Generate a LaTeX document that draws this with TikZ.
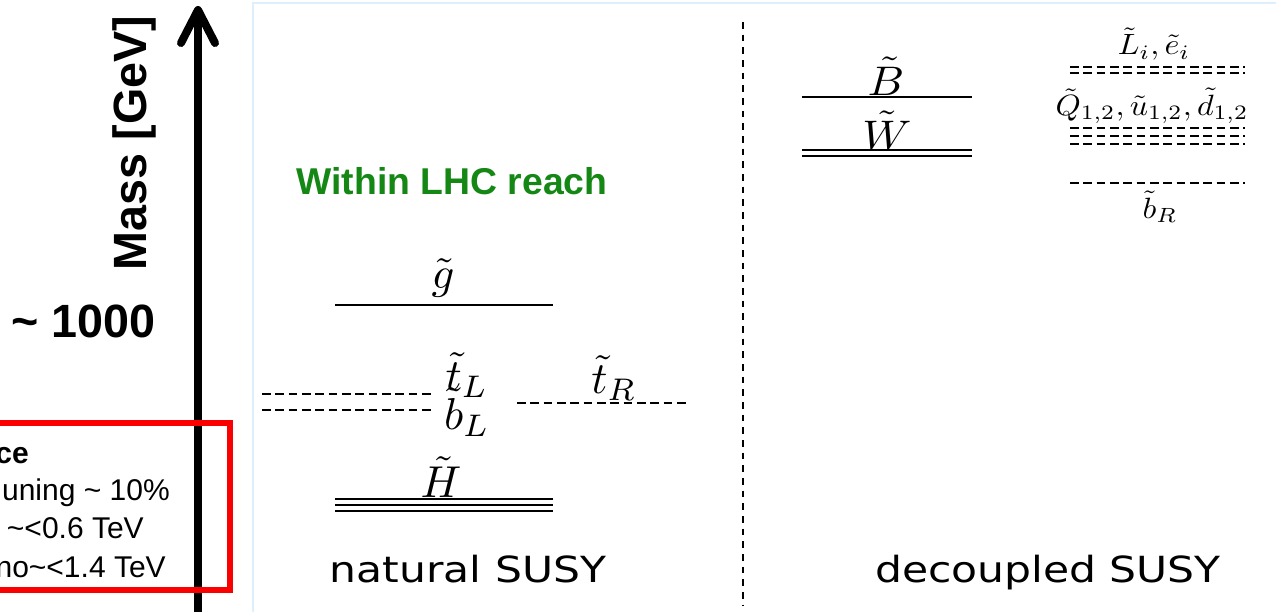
\documentclass[tikz,border=0pt]{standalone}
\usepackage{graphicx}
\usepackage[no-math]{fontspec}
\newfontfamily\arialf{Liberation Sans}
\newfontfamily\dejaf{DejaVu Sans}
\definecolor{panelblue}{RGB}{222,238,252}
\definecolor{reachgreen}{RGB}{20,135,20}
\definecolor{boxred}{RGB}{250,0,0}
\newcommand{\lgmath}[1]{\scalebox{3.35}{$#1$}}
\newcommand{\mdmath}[1]{\scalebox{3.4}[3.1]{$#1$}}
\newcommand{\smmath}[1]{\scalebox{2.4}[2.2]{$#1$}}
\newcommand{\wide}[1]{\scalebox{1.18}[1]{#1}}
\tikzset{
  lvl/.style={line width=1.8pt},
  dlvl/.style={line width=1.5pt, dash pattern=on 6.5pt off 3.5pt},
  mlab/.style={inner sep=0pt},
  atext/.style={inner sep=0pt, font=\arialf\fontsize{22.5}{26}\selectfont},
  ptitle/.style={anchor=base, inner sep=0pt, font=\dejaf\fontsize{27}{32}\selectfont},
}
\begin{document}
\begin{tikzpicture}[x=0.75pt,y=-0.75pt]
\useasboundingbox (0,0) rectangle (1276,611);
\clip (0,0) rectangle (1276,611);
\fill[white] (0,0) rectangle (1276,611);
% panel border
\draw[panelblue, line width=2.2pt] (1300,3) -- (253,3) -- (253,640);
% divider
\draw[line width=2.2pt, dash pattern=on 5pt off 4.5pt] (743,22) -- (743,606);
% axis
\coordinate (axbot) at (198,640);
\coordinate (axtop) at (198,10);
\draw[line width=6pt] (axbot) -- (axtop);
\draw[line width=6pt, line cap=round, line join=round] (181,43) -- (axtop) -- (215,43);
\node[rotate=90, anchor=base, inner sep=0pt, font=\arialf\bfseries\fontsize{35}{40}\selectfont] (mass) at (146,143) {Mass [GeV]};
\node[anchor=base east, inner sep=0pt, font=\arialf\bfseries\fontsize{35}{40}\selectfont] (thou) at (156,337) {\textasciitilde{} 1000};
% red box
\draw[boxred, line width=4.5pt] (-20,423) -- (230,423) -- (230,590) -- (-20,590);
\node[atext, anchor=base east, font=\arialf\bfseries\fontsize{22.5}{26}\selectfont] (b1) at (29,463) {ce};
\node[atext, anchor=base east] (b2) at (170,500) {uning \textasciitilde{} 10\%};
\node[atext, anchor=base east] (b3) at (144,538) {\textasciitilde{}<0.6 TeV};
\node[atext, anchor=base east] (b4) at (166,577) {no\textasciitilde{}<1.4 TeV};
% Within LHC reach
\node[inner sep=0pt, anchor=base, text=reachgreen, font=\arialf\bfseries\fontsize{28}{32}\selectfont] (lhc) at (452,194) {Within LHC reach};
% natural SUSY levels
\draw[lvl] (335,305) -- (553,305);
\node[mlab] (gl) at (443,278) {\lgmath{\tilde g}};
\draw[dlvl] (262,394) -- (435,394);
\draw[dlvl] (262,410) -- (435,410);
\node[mlab] (tl) at (467,375) {\lgmath{\tilde t_L}};
\node[mlab] (bl) at (467,412) {\lgmath{\tilde b_L}};
\draw[dlvl] (517,403) -- (690,403);
\node[mlab] (tr) at (614,378) {\lgmath{\tilde t_R}};
\draw[lvl] (335,499) -- (553,499);
\draw[lvl] (335,505) -- (553,505);
\draw[lvl] (335,511) -- (553,511);
\node[mlab] (hl) at (441,477) {\lgmath{\tilde H}};
\node[ptitle] (nat) at (468,582) {\wide{natural SUSY}};
% decoupled SUSY levels
\draw[lvl] (802,97) -- (972,97);
\node[mlab] (bino) at (886,76) {\mdmath{\tilde B}};
\draw[lvl] (802,150) -- (972,150);
\draw[lvl] (802,156) -- (972,156);
\node[mlab] (wino) at (887,130) {\mdmath{\tilde W}};
\node[mlab] (le) at (1154,44) {\smmath{\tilde L_i, \tilde e_i}};
\draw[dlvl] (1070,67) -- (1245,67);
\draw[dlvl] (1070,73) -- (1245,73);
\node[mlab] (q) at (1152,106) {\smmath{\tilde Q_{1,2}, \tilde u_{1,2}, \tilde d_{1,2}}};
\draw[dlvl] (1070,128) -- (1245,128);
\draw[dlvl] (1070,136) -- (1245,136);
\draw[dlvl] (1070,144) -- (1245,144);
\draw[dlvl] (1070,183) -- (1245,183);
\node[mlab] (br) at (1160,207) {\smmath{\tilde b_R}};
\node[ptitle] (dec) at (1048,582) {\wide{decoupled SUSY}};
\end{tikzpicture}
\end{document}
